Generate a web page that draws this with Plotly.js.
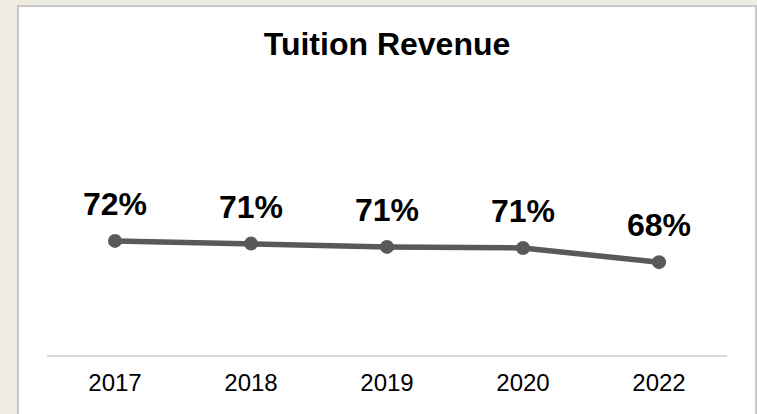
<!DOCTYPE html>
<html>
<head>
<meta charset="utf-8">
<script src="https://cdn.plot.ly/plotly-3.0.1.min.js"></script>
<style>
  html, body { margin: 0; padding: 0; background: #eeebe1; overflow: hidden; width: 757px; height: 414px; }
  #chart { position: absolute; left: 17px; top: 5px; width: 736px; height: 410px;
           background: #ffffff; border-left: 2px solid #c9c9c9; border-top: 2px solid #c9c9c9; border-right: 2px solid #c9c9c9; }
</style>
</head>
<body>
<div id="chart"></div>
<script>
const years = ["2017", "2018", "2019", "2020", "2022"];
const tuitionShare = [71.9, 71.4, 70.8, 70.6, 68.0];
const chartTitle = "Tuition Revenue";

const FONT = "Liberation Sans, Arial, Helvetica, sans-serif";

const trace = {
  type: "scatter",
  mode: "lines+markers",
  x: years,
  y: tuitionShare,
  line: { color: "#595959", width: 5.5 },
  marker: { color: "#595959", size: 14 },
  hoverinfo: "skip",
  cliponaxis: false
};

// data labels: one per category (x given as category index)
const labels = years.map((yr, i) => ({
  x: i,
  y: tuitionShare[i],
  xref: "x", yref: "y",
  text: "<b>" + Math.round(tuitionShare[i]) + "%</b>",
  showarrow: false,
  xanchor: "center", yanchor: "bottom",
  yshift: 17,
  font: { family: FONT, size: 32, color: "#000000" }
}));

const layout = {
  width: 736,
  height: 410,
  paper_bgcolor: "#ffffff",
  plot_bgcolor: "#ffffff",
  margin: { l: 28, r: 28, t: 93, b: 62 },
  showlegend: false,
  title: {
    text: "<b>" + chartTitle + "</b>",
    x: 0.5, xref: "container", xanchor: "center",
    y: 0.91, yref: "container", yanchor: "middle",
    font: { family: FONT, size: 32, color: "#000000" }
  },
  xaxis: {
    type: "category",
    range: [-0.5, 4.5],
    showline: true, linecolor: "#d9d9d9", linewidth: 2,
    showgrid: false, zeroline: false,
    ticks: "",
    ticklabelstandoff: 5,
    tickfont: { family: FONT, size: 24, color: "#000000" },
    fixedrange: true
  },
  yaxis: {
    range: [51, 97.7],
    visible: false,
    fixedrange: true
  },
  annotations: labels
};

Plotly.newPlot("chart", [trace], layout, { displayModeBar: false, staticPlot: true });
</script>
</body>
</html>
